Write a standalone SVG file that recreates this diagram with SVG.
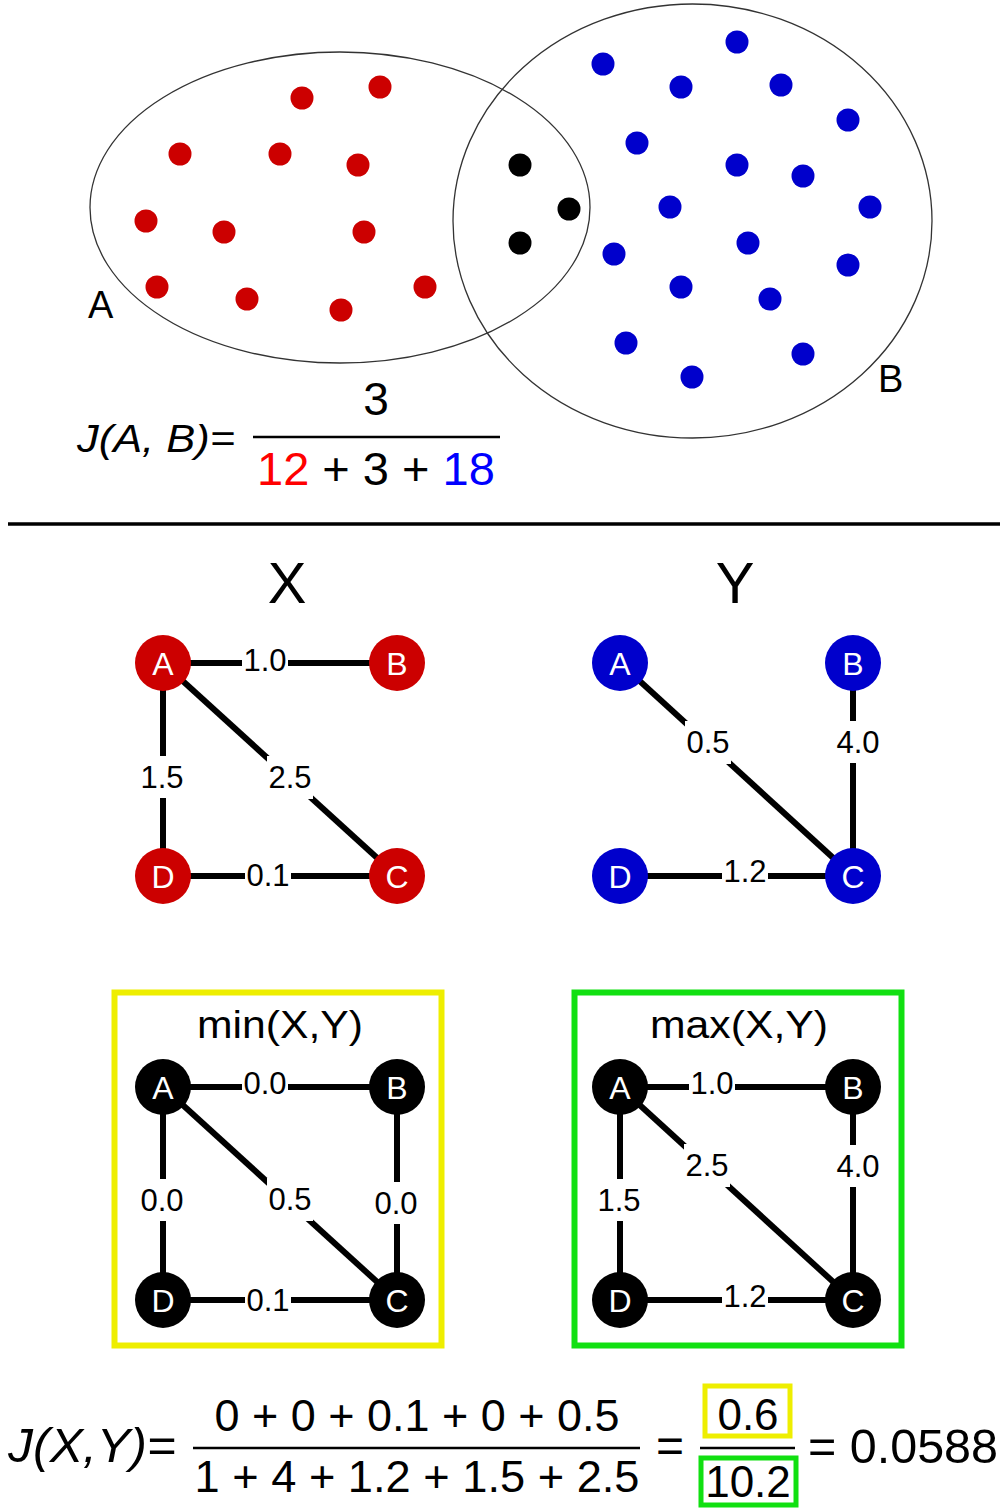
<svg xmlns="http://www.w3.org/2000/svg" width="1005" height="1510" viewBox="0 0 1005 1510">
<style>
text{font-family:"Liberation Sans",Arial,sans-serif;fill:#000}
.set{fill:none;stroke:#333;stroke-width:1.3}
.r{fill:#cc0000}.b{fill:#0000cc}.k{fill:#000}
.e{stroke:#000;stroke-width:6;fill:none}
.lb{fill:#fff}
.el{font-size:31px;text-anchor:middle}
.nl{font-size:32px;text-anchor:middle;fill:#fff}
.t{text-anchor:middle}
.fl{stroke:#000;stroke-width:2.5}
</style>
<rect width="1005" height="1510" fill="#fff"/>
<g id="venn">
<ellipse class="set" cx="340" cy="207.5" rx="250" ry="155.5"/>
<ellipse class="set" cx="692.5" cy="221" rx="239.5" ry="217"/>
<g class="r">
<circle cx="302" cy="98" r="11.5"/><circle cx="380" cy="87" r="11.5"/><circle cx="180" cy="154" r="11.5"/><circle cx="280" cy="154" r="11.5"/><circle cx="358" cy="165" r="11.5"/><circle cx="146" cy="221" r="11.5"/><circle cx="224" cy="232" r="11.5"/><circle cx="364" cy="232" r="11.5"/><circle cx="157" cy="287" r="11.5"/><circle cx="247" cy="299" r="11.5"/><circle cx="341" cy="310" r="11.5"/><circle cx="425" cy="287" r="11.5"/>
</g>
<g class="k">
<circle cx="520" cy="165" r="11.5"/><circle cx="569" cy="209" r="11.5"/><circle cx="520" cy="243" r="11.5"/>
</g>
<g class="b">
<circle cx="603" cy="64" r="11.5"/><circle cx="737" cy="42" r="11.5"/><circle cx="681" cy="87" r="11.5"/><circle cx="781" cy="85" r="11.5"/><circle cx="848" cy="120" r="11.5"/><circle cx="637" cy="143" r="11.5"/><circle cx="737" cy="165" r="11.5"/><circle cx="803" cy="176" r="11.5"/><circle cx="670" cy="207" r="11.5"/><circle cx="870" cy="207" r="11.5"/><circle cx="614" cy="254" r="11.5"/><circle cx="748" cy="243" r="11.5"/><circle cx="848" cy="265" r="11.5"/><circle cx="681" cy="287" r="11.5"/><circle cx="770" cy="299" r="11.5"/><circle cx="626" cy="343" r="11.5"/><circle cx="803" cy="354" r="11.5"/><circle cx="692" cy="377" r="11.5"/>
</g>
<text x="88" y="318" font-size="38">A</text>
<text x="878" y="392" font-size="38">B</text>
</g>
<g id="formula-ab">
<text x="77" y="452" font-size="38" font-style="italic" textLength="158" lengthAdjust="spacingAndGlyphs">J(A, B)=</text>
<text x="376" y="415" font-size="46" class="t">3</text>
<line class="fl" x1="253" y1="437" x2="500" y2="437" stroke-width="2"/>
<text x="257" y="485" font-size="47"><tspan fill="#ff0000">12</tspan> + 3 + <tspan fill="#0000ff">18</tspan></text>
</g>
<line id="divider" x1="8" y1="524" x2="1000" y2="524" stroke="#000" stroke-width="3.5"/>
<text x="287" y="603" font-size="58" class="t">X</text>
<text x="735" y="603" font-size="58" class="t">Y</text>
<rect id="min-box" x="114.5" y="992.5" width="327" height="353" fill="none" stroke="#eeee00" stroke-width="6"/>
<rect id="max-box" x="574.5" y="992.5" width="327" height="353" fill="none" stroke="#11e011" stroke-width="6"/>
<text x="280" y="1038" font-size="38" class="t" textLength="166" lengthAdjust="spacingAndGlyphs">min(X,Y)</text>
<text x="739" y="1038" font-size="38" class="t" textLength="178" lengthAdjust="spacingAndGlyphs">max(X,Y)</text>
<g id="connectors">
<line class="e" x1="163" y1="663" x2="397" y2="663"/>
<line class="e" x1="163" y1="663" x2="163" y2="876"/>
<line class="e" x1="163" y1="663" x2="397" y2="876"/>
<line class="e" x1="163" y1="876" x2="397" y2="876"/>
<line class="e" x1="620" y1="663" x2="853" y2="876"/>
<line class="e" x1="853" y1="663" x2="853" y2="876"/>
<line class="e" x1="620" y1="876" x2="853" y2="876"/>
<line class="e" x1="163" y1="1087" x2="397" y2="1087"/>
<line class="e" x1="163" y1="1087" x2="163" y2="1300"/>
<line class="e" x1="163" y1="1087" x2="397" y2="1300"/>
<line class="e" x1="397" y1="1087" x2="397" y2="1300"/>
<line class="e" x1="163" y1="1300" x2="397" y2="1300"/>
<line class="e" x1="620" y1="1087" x2="853" y2="1087"/>
<line class="e" x1="620" y1="1087" x2="620" y2="1300"/>
<line class="e" x1="620" y1="1087" x2="853" y2="1300"/>
<line class="e" x1="853" y1="1087" x2="853" y2="1300"/>
<line class="e" x1="620" y1="1300" x2="853" y2="1300"/>
<g>
<rect class="lb" x="242" y="648" width="46" height="24"/><text class="el" x="265" y="671">1.0</text>
<rect class="lb" x="139" y="756" width="46" height="42"/><text class="el" x="162" y="788">1.5</text>
<rect class="lb" x="267" y="756" width="46" height="43"/><text class="el" x="290" y="788">2.5</text>
<rect class="lb" x="245" y="864" width="46" height="24"/><text class="el" x="268" y="886">0.1</text>
<rect class="lb" x="685" y="721" width="46" height="43"/><text class="el" x="708" y="753">0.5</text>
<rect class="lb" x="835" y="721" width="46" height="42"/><text class="el" x="858" y="753">4.0</text>
<rect class="lb" x="722" y="860" width="46" height="24"/><text class="el" x="745" y="882">1.2</text>
<rect class="lb" x="242" y="1072" width="46" height="24"/><text class="el" x="265" y="1094">0.0</text>
<rect class="lb" x="139" y="1179" width="46" height="42"/><text class="el" x="162" y="1211">0.0</text>
<rect class="lb" x="267" y="1178" width="46" height="43"/><text class="el" x="290" y="1210">0.5</text>
<rect class="lb" x="373" y="1182" width="46" height="42"/><text class="el" x="396" y="1214">0.0</text>
<rect class="lb" x="245" y="1288" width="46" height="24"/><text class="el" x="268" y="1311">0.1</text>
<rect class="lb" x="689" y="1072" width="46" height="24"/><text class="el" x="712" y="1094">1.0</text>
<rect class="lb" x="596" y="1179" width="46" height="42"/><text class="el" x="619" y="1211">1.5</text>
<rect class="lb" x="684" y="1144" width="46" height="43"/><text class="el" x="707" y="1176">2.5</text>
<rect class="lb" x="835" y="1145" width="46" height="42"/><text class="el" x="858" y="1177">4.0</text>
<rect class="lb" x="722" y="1284" width="46" height="24"/><text class="el" x="745" y="1307">1.2</text>
</g>
</g>
<g id="nodes-X">
<g id="xA"><circle class="r" cx="163" cy="663" r="28"/><text class="nl" x="163" y="674.5">A</text></g>
<g id="xB"><circle class="r" cx="397" cy="663" r="28"/><text class="nl" x="397" y="674.5">B</text></g>
<g id="xC"><circle class="r" cx="397" cy="876" r="28"/><text class="nl" x="397" y="887.5">C</text></g>
<g id="xD"><circle class="r" cx="163" cy="876" r="28"/><text class="nl" x="163" y="887.5">D</text></g>
</g>
<g id="nodes-Y">
<g id="yA"><circle class="b" cx="620" cy="663" r="28"/><text class="nl" x="620" y="674.5">A</text></g>
<g id="yB"><circle class="b" cx="853" cy="663" r="28"/><text class="nl" x="853" y="674.5">B</text></g>
<g id="yC"><circle class="b" cx="853" cy="876" r="28"/><text class="nl" x="853" y="887.5">C</text></g>
<g id="yD"><circle class="b" cx="620" cy="876" r="28"/><text class="nl" x="620" y="887.5">D</text></g>
</g>
<g id="nodes-min">
<g id="mnA"><circle class="k" cx="163" cy="1087" r="28"/><text class="nl" x="163" y="1098.5">A</text></g>
<g id="mnB"><circle class="k" cx="397" cy="1087" r="28"/><text class="nl" x="397" y="1098.5">B</text></g>
<g id="mnC"><circle class="k" cx="397" cy="1300" r="28"/><text class="nl" x="397" y="1311.5">C</text></g>
<g id="mnD"><circle class="k" cx="163" cy="1300" r="28"/><text class="nl" x="163" y="1311.5">D</text></g>
</g>
<g id="nodes-max">
<g id="mxA"><circle class="k" cx="620" cy="1087" r="28"/><text class="nl" x="620" y="1098.5">A</text></g>
<g id="mxB"><circle class="k" cx="853" cy="1087" r="28"/><text class="nl" x="853" y="1098.5">B</text></g>
<g id="mxC"><circle class="k" cx="853" cy="1300" r="28"/><text class="nl" x="853" y="1311.5">C</text></g>
<g id="mxD"><circle class="k" cx="620" cy="1300" r="28"/><text class="nl" x="620" y="1311.5">D</text></g>
</g>
<g id="formula-xy">
<text x="8" y="1462" font-size="48" font-style="italic" textLength="168" lengthAdjust="spacingAndGlyphs">J(X,Y)=</text>
<text x="417" y="1431" font-size="44" class="t" textLength="405" lengthAdjust="spacingAndGlyphs">0 + 0 + 0.1 + 0 + 0.5</text>
<line class="fl" x1="193" y1="1448" x2="640" y2="1448"/>
<text x="417" y="1492" font-size="44" class="t" textLength="445" lengthAdjust="spacingAndGlyphs">1 + 4 + 1.2 + 1.5 + 2.5</text>
<text x="670" y="1462" font-size="48" class="t">=</text>
<rect x="705" y="1386" width="85" height="50" fill="none" stroke="#eeee00" stroke-width="5"/>
<text x="748" y="1430" font-size="44" class="t">0.6</text>
<line class="fl" x1="700" y1="1448" x2="795" y2="1448"/>
<rect x="701" y="1458" width="95" height="47" fill="none" stroke="#11e011" stroke-width="5"/>
<text x="748" y="1497" font-size="44" class="t">10.2</text>
<text x="808" y="1463" font-size="48" textLength="190" lengthAdjust="spacingAndGlyphs">= 0.0588</text>
</g>
</svg>
